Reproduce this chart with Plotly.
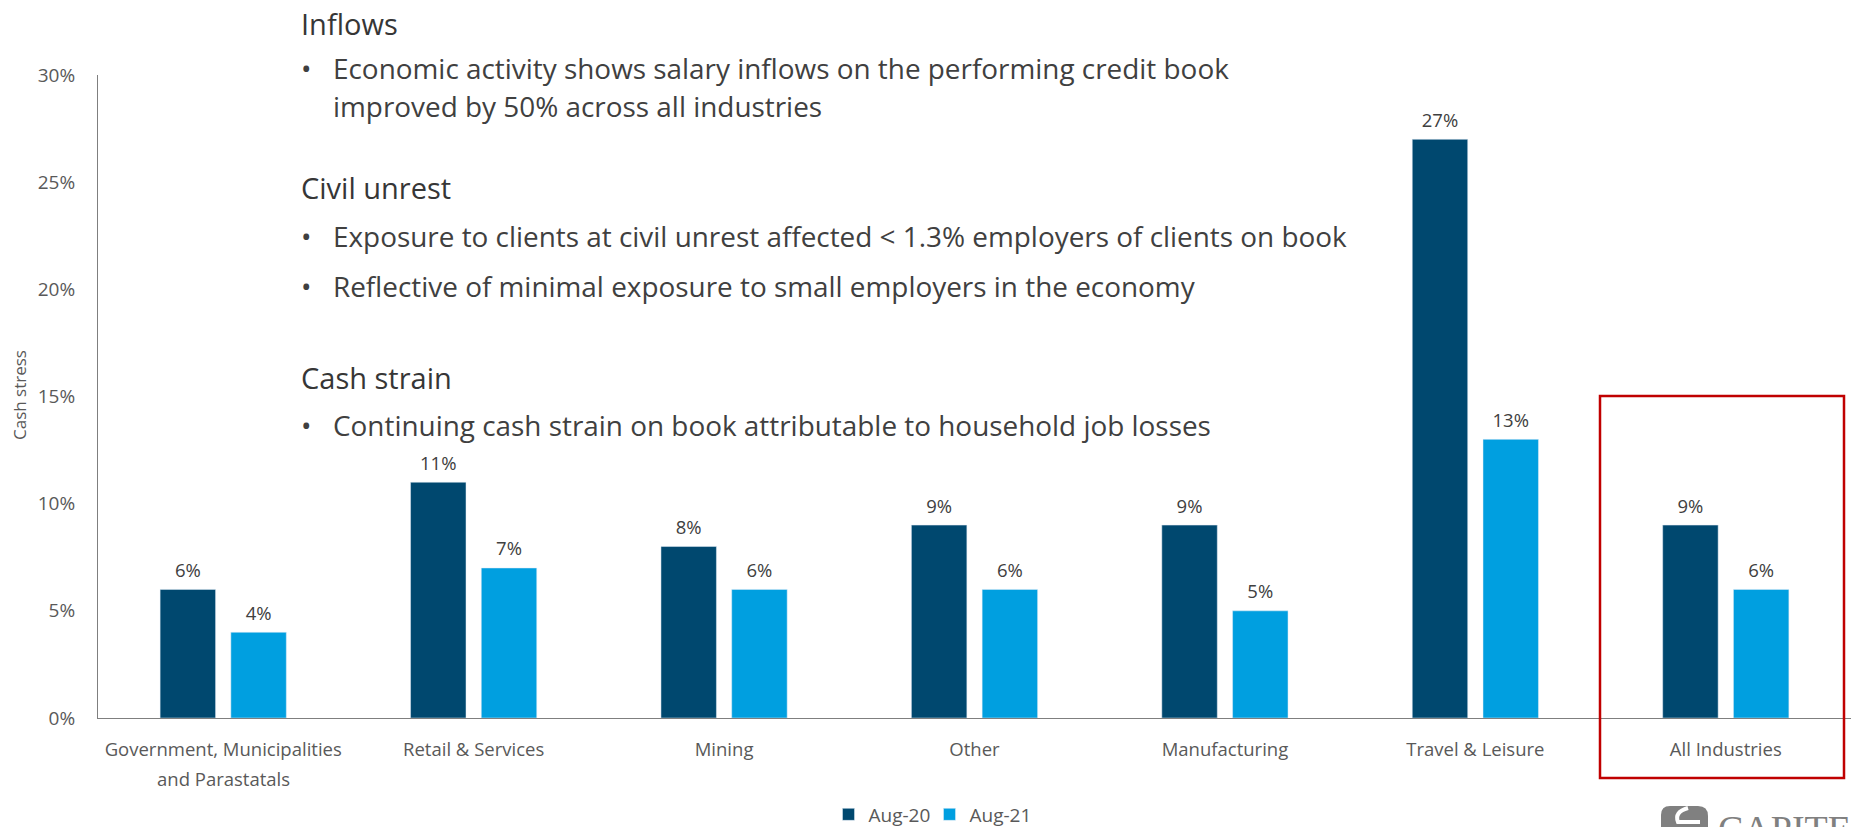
import plotly.graph_objects as go

# ---- data ----
categories = [
    "Government, Municipalities and Parastatals",
    "Retail & Services",
    "Mining",
    "Other",
    "Manufacturing",
    "Travel & Leisure",
    "All Industries",
]
tick_first_lines = [
    "Government, Municipalities",
    "Retail & Services",
    "Mining",
    "Other",
    "Manufacturing",
    "Travel & Leisure",
    "All Industries",
]
tick_second_line = "and Parastatals"
series_names = ["Aug-20", "Aug-21"]
aug20 = [6, 11, 8, 9, 9, 27, 9]
aug21 = [4, 7, 6, 6, 5, 13, 6]
y_ticks = [0, 5, 10, 15, 20, 25, 30]
y_tick_labels = [f"{v}%" for v in y_ticks]

# ---- style ----
W, H = 1851, 827
M_L, M_R, M_T, M_B = 98, 0, 75, 109
PLOT_W = W - M_L - M_R
PLOT_H = H - M_T - M_B
FONT = "Open Sans"
DARK = "#00486F"
LIGHT = "#009FE0"
TEXT = "#404040"
GREY = "#595959"
AXIS = "#7F7F7F"
BARGAP = 0.435


def px_x(x):
    return (x - M_L) / PLOT_W


def px_y(y):
    return (H - M_B - y) / PLOT_H


fig = go.Figure()

groups = ["a", "b"]
for name, vals, color, grp in [
    (series_names[0], aug20, DARK, groups[0]),
    (series_names[1], aug21, LIGHT, groups[1]),
]:
    fig.add_trace(go.Bar(
        name=name, x=categories, y=vals, marker_color=color,
        offsetgroup=grp, hoverinfo="skip",
    ))

# value labels above each bar, sharing the bars' offset groups
for vals, grp in [(aug20, groups[0]), (aug21, groups[1])]:
    fig.add_trace(go.Scatter(
        x=categories, y=vals, mode="markers+text",
        text=[f"{v}%" for v in vals], textposition="top center",
        textfont=dict(family=FONT, size=18.5, color=TEXT),
        marker=dict(size=11, color="rgba(0,0,0,0)"),
        offsetgroup=grp, showlegend=False, hoverinfo="skip",
        cliponaxis=False,
    ))

annotations = []

# second line of the first category label
annotations.append(dict(
    x=categories[0], y=0, xref="x", yref="y", text=tick_second_line,
    showarrow=False, xanchor="center", yanchor="middle", yshift=-60,
    font=dict(family=FONT, size=18.5, color=GREY),
))

# y-axis title
annotations.append(dict(
    x=px_x(19), y=px_y(395), xref="paper", yref="paper", text="Cash stress",
    textangle=-90, showarrow=False, xanchor="center", yanchor="middle",
    font=dict(family=FONT, size=17, color=GREY),
))

# commentary block
headings = [("Inflows", 23), ("Civil unrest", 187), ("Cash strain", 377)]
bullets = [
    ("Economic activity shows salary inflows on the performing credit book", 68, True),
    ("improved by 50% across all industries", 106, False),
    ("Exposure to clients at civil unrest affected < 1.3% employers of clients on book", 236, True),
    ("Reflective of minimal exposure to small employers in the economy", 286, True),
    ("Continuing cash strain on book attributable to household job losses", 425, True),
]
for txt, yc in headings:
    annotations.append(dict(
        x=px_x(299), y=px_y(yc), xref="paper", yref="paper", text=txt,
        showarrow=False, xanchor="left", yanchor="middle",
        font=dict(family=FONT, size=29, color="#363636", weight=500),
    ))
for txt, yc, dot in bullets:
    if dot:
        annotations.append(dict(
            x=px_x(299), y=px_y(yc), xref="paper", yref="paper", text="•",
            showarrow=False, xanchor="left", yanchor="middle",
            font=dict(family=FONT, size=27.9, color=TEXT),
        ))
    annotations.append(dict(
        x=px_x(331), y=px_y(yc), xref="paper", yref="paper", text=txt,
        showarrow=False, xanchor="left", yanchor="middle",
        font=dict(family=FONT, size=27.9, color=TEXT),
    ))

# brand mark, bottom right
annotations.append(dict(
    x=px_x(1716), y=px_y(806), xref="paper", yref="paper", text="CAPITEC",
    showarrow=False, xanchor="left", yanchor="top",
    font=dict(family="Liberation Serif", size=38, color="#808080"),
))

shapes = [
    # highlight around the all-industries group
    dict(type="rect", xref="paper", yref="paper",
         x0=px_x(1600), x1=px_x(1844), y0=px_y(778), y1=px_y(396),
         line=dict(color="#C00000", width=2.5), fillcolor="rgba(0,0,0,0)"),
    # logo emblem
    dict(type="path", xref="paper", yref="paper",
         path=(f"M {px_x(1670)},{px_y(806)} L {px_x(1698)},{px_y(806)} "
               f"Q {px_x(1708)},{px_y(806)} {px_x(1708)},{px_y(816)} "
               f"L {px_x(1708)},{px_y(840)} L {px_x(1661)},{px_y(840)} "
               f"L {px_x(1661)},{px_y(815)} "
               f"Q {px_x(1661)},{px_y(806)} {px_x(1670)},{px_y(806)} Z"),
         fillcolor="#808080", line=dict(width=0)),
    dict(type="path", xref="paper", yref="paper",
         path=(f"M {px_x(1688)},{px_y(808)} Q {px_x(1674)},{px_y(812)} "
               f"{px_x(1678)},{px_y(822)} L {px_x(1700)},{px_y(822)}"),
         line=dict(color="white", width=4)),
]

fig.update_layout(
    width=W, height=H,
    margin=dict(l=M_L, r=M_R, t=M_T, b=M_B, autoexpand=False),
    paper_bgcolor="white", plot_bgcolor="white",
    barmode="group", bargap=BARGAP, bargroupgap=0.216,
    scattermode="group", scattergap=BARGAP,
    font=dict(family=FONT, color=GREY),
    showlegend=True,
    legend=dict(
        orientation="h", x=px_x(828.5), y=px_y(814.5),
        xanchor="left", yanchor="middle",
        font=dict(family=FONT, size=19, color=GREY),
        traceorder="normal", entrywidth=56, entrywidthmode="pixels",
        bgcolor="rgba(0,0,0,0)",
    ),
    xaxis=dict(
        range=[-0.5, 6.5], showline=True, linecolor=AXIS, linewidth=1,
        ticks="", showgrid=False, zeroline=False,
        tickmode="array", tickvals=categories, ticktext=tick_first_lines,
        tickfont=dict(family=FONT, size=18.5, color=GREY),
        ticklabelstandoff=15, fixedrange=True,
    ),
    yaxis=dict(
        range=[0, 30], showline=True, linecolor=AXIS, linewidth=1,
        ticks="", showgrid=False, zeroline=False,
        tickmode="array", tickvals=y_ticks, ticktext=y_tick_labels,
        tickfont=dict(family=FONT, size=19, color=GREY),
        ticklabelstandoff=18, fixedrange=True,
    ),
    annotations=annotations,
    shapes=shapes,
)

fig.write_html("out.html")
